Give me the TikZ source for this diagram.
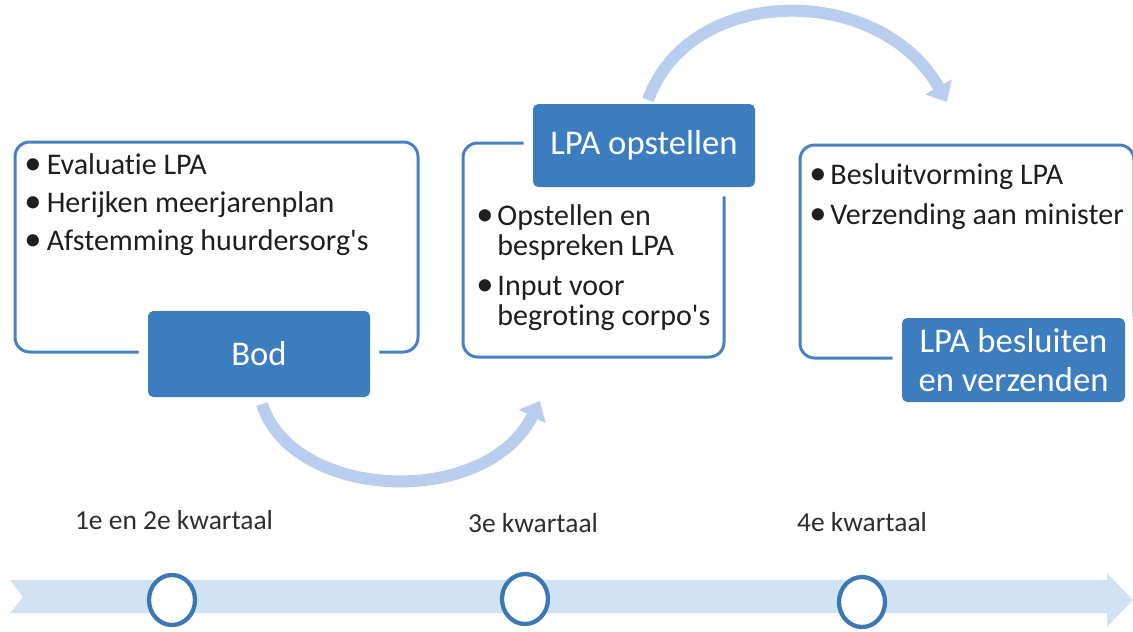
\documentclass[tikz,border=0pt]{standalone}
\usepackage{fontspec}
\setmainfont{Carlito}[Ligatures={CommonOff,TeXOff}]
\usetikzlibrary{arrows.meta,shapes.geometric}
\definecolor{boxblue}{HTML}{3C7DC0}
\definecolor{lineblue}{HTML}{4682C3}
\definecolor{arcblue}{HTML}{B9CEEE}
\definecolor{bandblue}{HTML}{D2E2F5}
\definecolor{ringblue}{HTML}{3B77B5}
\definecolor{txtgray}{HTML}{1E1E1E}
\definecolor{lblgray}{HTML}{2E2E2E}
\newcommand{\bul}{\raisebox{-0.4pt}{\scalebox{1.15}{\textbullet}}}
\begin{document}
\begin{tikzpicture}[x=0.75pt,y=-0.75pt,
  outline/.style={draw=lineblue, line width=2.25pt, rounded corners=11pt, inner sep=0pt},
  head/.style={fill=boxblue, preaction={draw=white, line width=14pt}, rounded corners=4pt,
    text=white, font=\fontsize{26}{29}\selectfont, align=center, inner sep=0pt},
  bullets/.style={text=txtgray, font=\fontsize{22.5}{22.5}\selectfont, inner sep=0pt, anchor=base west},
  arc/.style={draw=arcblue, line width=9pt, -{Triangle[width=22pt,length=13pt]}},
  ring/.style={ellipse, draw=ringblue, line width=3.2pt, fill=white, minimum width=34.5pt, minimum height=37.5pt, inner sep=0pt},
  lbl/.style={text=lblgray, font=\fontsize{20.6}{24}\selectfont, anchor=base, inner sep=0pt}
]
\useasboundingbox (0,0) rectangle (1133,632);

% outline boxes
\node[outline, minimum width=302.25pt, minimum height=157.5pt] (box1) at (216.5,247) {};
\node[outline, minimum width=195.75pt, minimum height=160.5pt] (box2) at (593.5,250) {};
\node[outline, minimum width=250.5pt, minimum height=159.75pt] (box3) at (967,251.5) {};

% bullet texts
\node[bullets] (t1) at (24,174) {\begin{tabular}[t]{@{}l@{\hspace{4pt}}l@{}}
\bul & Evaluatie LPA\\[6pt]
\bul & Herijken meerjarenplan\\[6pt]
\bul & Afstemming huurdersorg's
\end{tabular}};
\node[bullets] (t2) at (476,225) {\begin{tabular}[t]{@{}l@{\hspace{3pt}}l@{}}
\bul & Opstellen en\\
 & bespreken LPA\\[7.5pt]
\bul & Input voor\\
 & begroting corpo's
\end{tabular}};
\node[bullets] (t3) at (809,184) {\begin{tabular}[t]{@{}l@{\hspace{3pt}}l@{}}
\bul & Besluitvorming LPA\\[7.5pt]
\bul & Verzending aan minister
\end{tabular}};

% heading boxes
\node[head, minimum width=166.5pt, minimum height=64.5pt] (bod) at (259,354) {Bod};
\node[head, minimum width=166.5pt, minimum height=62.25pt] (opst) at (644,145.5) {LPA opstellen};
\node[head, minimum width=167.25pt, minimum height=63pt] (besl) at (1013.5,360) {LPA besluiten\\en verzenden};

% curved arrows
\coordinate (a1s) at (262,404);
\coordinate (a1e) at (540,401);
\coordinate (a2s) at (648,100);
\coordinate (a2e) at (947,102);
\draw[arc] (a1s) .. controls (292,500) and (485,510) .. (a1e);
\draw[arc] (a2s) .. controls (690,-17) and (880,-17) .. (a2e);

% timeline band
\fill[bandblue] (10,580) -- (1107,580) -- (1107,573) -- (1133,600) -- (1107,627) -- (1107,613) -- (10,613) -- (23,597) -- cycle;

% milestones
\node[ring] (m1) at (172,600) {};
\node[ring] (m2) at (525,599) {};
\node[ring] (m3) at (862,602) {};

\node[lbl] (l1) at (174,529) {1e en 2e kwartaal};
\node[lbl] (l2) at (533,532) {3e kwartaal};
\node[lbl] (l3) at (862,531) {4e kwartaal};
\end{tikzpicture}
\end{document}
